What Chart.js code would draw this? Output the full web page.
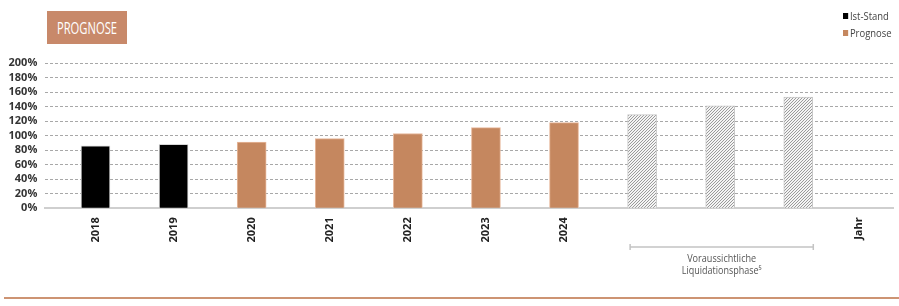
<!DOCTYPE html>
<html>
<head>
<meta charset="utf-8">
<script src="https://cdn.jsdelivr.net/npm/chart.js@4/dist/chart.umd.min.js"></script>
<style>
  html, body { margin: 0; padding: 0; background: #fff; }
  #wrap { position: relative; width: 899px; height: 306px; overflow: hidden; }
  #c { position: absolute; left: 0; top: 0; }
  #badge { position: absolute; left: 47px; top: 11px; width: 80px; height: 33px; background: #c8896a; overflow: hidden; }
  #badge span { position: absolute; left: 40px; top: 0; line-height: 33px; color: #fff; white-space: nowrap;
           font-family: "Open Sans", sans-serif; font-size: 16.5px; transform: translateX(-50%) scaleX(0.68); }
  .leg { position: absolute; left: 843px; font-family: "Open Sans", sans-serif; transform-origin: 0 50%;
         transform: scaleX(0.86); font-size: 11px; color: #444; line-height: 12px; white-space: nowrap; }
  .leg i { display: inline-block; width: 6px; height: 6px; margin-right: 2px; vertical-align: 1px; }
  #rule { position: absolute; left: 4px; top: 297px; width: 895px; height: 2px; background: #cd9473; }
</style>
</head>
<body>
<div id="wrap">
  <canvas id="c" width="899" height="306"></canvas>
  <div id="badge"><span>PROGNOSE</span></div>
  <div class="leg" style="top:10px"><i style="background:#000"></i>Ist-Stand</div>
  <div class="leg" style="top:27px"><i style="background:#c5875f"></i>Prognose</div>
  <div id="rule"></div>
</div>
<script>
// ---- data ----
const tickLabels = ['2018', '2019', '2020', '2021', '2022', '2023', '2024', '', '', '', 'Jahr'];
const tickPositions = [0, 1, 2, 3, 4, 5, 6, 7, 8, 9, 9.77];
const istPositions = [0, 1];
const istValues = [86, 88];
const prognosePositions = [2, 3, 4, 5, 6];
const prognoseValues = [91, 96, 103, 111, 118];
const liquidPositions = [7, 8, 9];
const liquidValues = [129, 141, 153];
const yTicks = [0, 20, 40, 60, 80, 100, 120, 140, 160, 180, 200];
const bracketText = ['Voraussichtliche', 'Liquidationsphase\u2075'];

function pts(xs, ys) { return xs.map((x, i) => ({ x: x, y: ys[i] })); }

// hatch pattern
const pc = document.createElement('canvas');
pc.width = 3; pc.height = 3;
const pctx = pc.getContext('2d');
pctx.fillStyle = '#f4f4f4'; pctx.fillRect(0, 0, 3, 3);
pctx.strokeStyle = '#9a9a9a'; pctx.lineWidth = 1;
pctx.beginPath();
pctx.moveTo(-1, 4); pctx.lineTo(4, -1);
pctx.moveTo(2, 4); pctx.lineTo(4, 2);
pctx.moveTo(-1, 1); pctx.lineTo(1, -1);
pctx.stroke();
const hatch = pctx.createPattern(pc, 'repeat');

function fitText(ctx, text, cx, cy, targetW) {
  const w = ctx.measureText(text).width;
  const sx = targetW / w;
  ctx.save();
  ctx.translate(cx, cy);
  ctx.scale(sx, 1);
  ctx.fillText(text, 0, 0);
  ctx.restore();
}

const bracketPlugin = {
  id: 'bracket',
  afterDraw(chart) {
    const x = chart.scales.x;
    const ctx = chart.ctx;
    const l = x.getPixelForValue(liquidPositions[0]) - 12;
    const r = x.getPixelForValue(liquidPositions[liquidPositions.length - 1]) + 15;
    const y = 247;
    ctx.save();
    ctx.strokeStyle = '#c4c4c4';
    ctx.lineWidth = 1.5;
    ctx.beginPath();
    ctx.moveTo(l, y); ctx.lineTo(r, y);
    ctx.moveTo(l, y - 3); ctx.lineTo(l, y + 3);
    ctx.moveTo(r, y - 3); ctx.lineTo(r, y + 3);
    ctx.stroke();
    ctx.fillStyle = '#555';
    ctx.font = '11px "Open Sans", sans-serif';
    ctx.textAlign = 'center';
    ctx.textBaseline = 'middle';
    const cx = (l + r) / 2;
    fitText(ctx, bracketText[0], cx, 259, 69);
    fitText(ctx, bracketText[1], cx, 271, 80);
    ctx.restore();
  }
};

new Chart(document.getElementById('c'), {
  type: 'bar',
  data: {
    datasets: [
      { label: 'Ist-Stand', data: pts(istPositions, istValues), backgroundColor: '#000', borderColor: '#d8d8d8', borderWidth: 1 },
      { label: 'Prognose', data: pts(prognosePositions, prognoseValues), backgroundColor: '#c5875f', borderColor: '#e7b79a', borderWidth: 1 },
      { label: 'Liquidationsphase', data: pts(liquidPositions, liquidValues), backgroundColor: hatch, borderColor: '#c8c8c8', borderWidth: 1 }
    ]
  },
  options: {
    responsive: false,
    animation: false,
    events: [],
    grouped: false,
    barThickness: 29,
    layout: { padding: { left: 0, right: 6, top: 63, bottom: 0 } },
    plugins: { legend: { display: false }, tooltip: { enabled: false } },
    scales: {
      x: {
        type: 'linear',
        offset: false,
        min: -0.643,
        max: 10.213,
        afterFit(s) { s.height = 306 - 208.3; s.paddingLeft = 0; s.paddingRight = 0; },
        afterBuildTicks(s) { s.ticks = tickPositions.map(v => ({ value: v })); },
        grid: { display: false, drawTicks: false, offset: false },
        border: { display: true, color: '#cfcfcf', width: 2 },
        ticks: {
          autoSkip: false,
          minRotation: 90, maxRotation: 90,
          padding: 9,
          color: '#222',
          font: { family: '"Open Sans", sans-serif', size: 11, weight: 'bold' },
          callback: (v, i) => tickLabels[i]
        }
      },
      y: {
        min: 0, max: 200,
        afterFit(s) { s.width = 45.3; },
        afterBuildTicks(s) { s.ticks = yTicks.map(v => ({ value: v })); },
        grid: { color: '#a8a8a8', lineWidth: 1, drawTicks: false },
        border: { display: false, dash: [3, 2] },
        ticks: {
          autoSkip: false,
          padding: 8,
          color: '#333',
          font: { family: '"Open Sans", sans-serif', size: 11, weight: 'bold' },
          callback: v => v + '%'
        }
      }
    }
  },
  plugins: [bracketPlugin]
});
</script>
</body>
</html>
